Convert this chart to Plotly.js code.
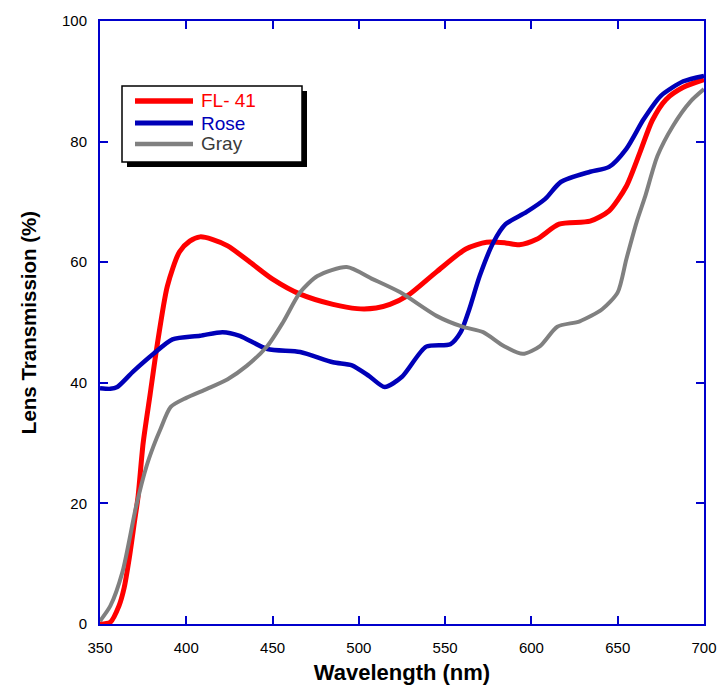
<!DOCTYPE html>
<html>
<head>
<meta charset="utf-8">
<script src="https://cdn.plot.ly/plotly-3.0.1.min.js"></script>
<style>
  body { margin: 0; background: #fff; }
  #grafico { width: 726px; height: 692px; }
</style>
</head>
<body>
<div id="grafico"></div>
<script>
// values
let seriesNames = ['FL- 41', 'Rose', 'Gray'];

let flWave = [350, 356, 361, 364, 367, 370, 372, 375, 379, 383, 389, 396, 402, 408, 415, 424, 437, 450, 466, 485, 499, 510, 518, 528, 545, 562, 574, 585, 593, 603, 616, 634, 645, 655, 663, 670, 678, 688, 700];
let flTrans = [0, 0.3, 3, 6, 11, 17, 21, 30, 38, 46, 56, 61.7, 63.5, 64.2, 63.8, 62.7, 60, 57.2, 54.7, 53, 52.3, 52.4, 53, 54.4, 58.4, 62.2, 63.3, 63.2, 62.9, 63.8, 66.3, 66.8, 68.5, 72.6, 78.3, 83.5, 87, 89, 90.3];

let roseWave = [350, 356, 360, 369, 381, 392, 408, 421, 431, 447, 466, 485, 496, 506, 515, 525, 539, 553, 559, 564, 570, 578, 585, 597, 608, 617, 634, 645, 655, 665, 675, 688, 700];
let roseTrans = [39.1, 39, 39.3, 41.8, 44.8, 47.2, 47.8, 48.4, 47.8, 45.6, 45.1, 43.4, 42.9, 41.1, 39.3, 41, 46, 46.4, 48.4, 52.2, 57.7, 63.3, 66.3, 68.3, 70.5, 73.3, 75, 75.8, 78.8, 83.7, 87.6, 90, 90.9];

let grayWave = [350, 356, 363, 371, 377, 381, 385, 391, 400, 412, 424, 435, 447, 456, 466, 476, 493, 508, 524, 545, 560, 572, 584, 595, 605, 615, 628, 641, 650, 655, 661, 666, 673, 682, 692, 700];
let grayTrans = [0.5, 3, 8.6, 19.6, 26.2, 29.5, 32.3, 36, 37.5, 39, 40.6, 42.8, 46.1, 50, 55, 57.7, 59.2, 57.2, 55, 51.1, 49.3, 48.4, 46.1, 44.8, 46.1, 49.3, 50.2, 52.2, 55, 60.5, 66.7, 71, 77.6, 82.6, 86.6, 88.7];

let colores = ['#ff0000', '#0000b8', '#808080'];
let textColores = ['#ff0000', '#0000b8', '#3a3a3a'];
let anchos = [5, 4.5, 4];

let ejeAzul = '#0000cc';
let fuente = 'Liberation Sans, Arial, sans-serif';

let datos = [
    { x: flWave, y: flTrans },
    { x: roseWave, y: roseTrans },
    { x: grayWave, y: grayTrans }
].map((d, i) => ({
    type: 'scatter',
    mode: 'lines',
    x: d.x,
    y: d.y,
    name: seriesNames[i],
    line: { color: colores[i], width: anchos[i], shape: 'spline', smoothing: 0.7 },
    showlegend: false
}));

// hand-made legend box (paper coordinates), like the original
let px = v => (v - 100) / 604;
let py = v => (624 - v) / 603;

let shapes = [
    { type: 'rect', xref: 'paper', yref: 'paper', x0: px(127), x1: px(307), y0: py(167), y1: py(91),
      fillcolor: '#000', line: { width: 0 }, layer: 'above' },
    { type: 'rect', xref: 'paper', yref: 'paper', x0: px(122), x1: px(302), y0: py(162), y1: py(86),
      fillcolor: '#fff', line: { color: '#000', width: 1.5 }, layer: 'above' }
];
let annotations = [];
let filas = [101, 123, 144];
seriesNames.forEach((n, i) => {
    shapes.push({ type: 'line', xref: 'paper', yref: 'paper', x0: px(135), x1: px(193), y0: py(filas[i]), y1: py(filas[i]),
        line: { color: colores[i], width: anchos[i] + 0.5 }, layer: 'above' });
    annotations.push({ xref: 'paper', yref: 'paper', x: px(199), y: py(filas[i]), xanchor: 'left', yanchor: 'middle',
        text: n, showarrow: false, font: { family: fuente, size: 19, color: textColores[i] } });
});

let tickFuente = { family: 'Liberation Sans, Arial', size: 15, color: '#000' };

let layout = {
    width: 726,
    height: 692,
    margin: { l: 100, r: 22, t: 21, b: 68 },
    paper_bgcolor: '#fff',
    plot_bgcolor: '#fff',
    font: { family: fuente, color: '#000' },
    xaxis: {
        range: [350, 700],
        dtick: 50,
        tick0: 350,
        showgrid: false,
        zeroline: false,
        showline: true,
        linecolor: ejeAzul,
        linewidth: 2,
        mirror: 'ticks',
        ticks: 'inside',
        ticklen: 8,
        tickwidth: 1.5,
        tickcolor: ejeAzul,
        tickfont: tickFuente,
        ticklabelstandoff: 9,
        title: { text: 'Wavelength (nm)', font: { family: fuente, size: 22, color: '#000', weight: 'bold' }, standoff: 10 }
    },
    yaxis: {
        range: [0, 100],
        dtick: 20,
        showgrid: false,
        zeroline: false,
        showline: true,
        linecolor: ejeAzul,
        linewidth: 2,
        mirror: 'ticks',
        ticks: 'inside',
        ticklen: 8,
        tickwidth: 1.5,
        tickcolor: ejeAzul,
        tickfont: tickFuente,
        ticklabelstandoff: 8,
        title: { text: 'Lens Transmission (%)', font: { family: fuente, size: 20.5, color: '#000', weight: 'bold' }, standoff: 20 }
    },
    shapes: shapes,
    annotations: annotations
};

Plotly.newPlot('grafico', datos, layout, { displayModeBar: false });
</script>
</body>
</html>
